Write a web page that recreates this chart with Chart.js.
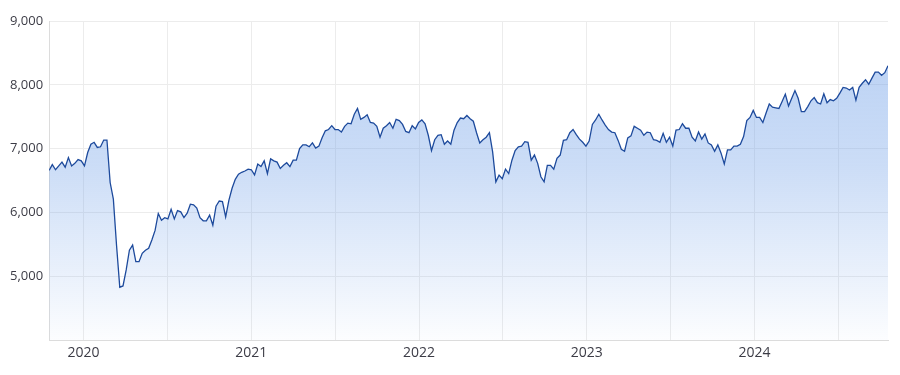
<!DOCTYPE html>
<html>
<head>
<meta charset="utf-8">
<script src="https://cdn.jsdelivr.net/npm/chart.js@4/dist/chart.umd.min.js"></script>
<style>
  html, body { margin: 0; padding: 0; background: #fff; }
  #wrap { width: 900px; height: 375px; }
</style>
</head>
<body>
<div id="wrap"><canvas id="priceChart"></canvas></div>
<script>
// weekly closes, first week ending 18 Oct 2019
const firstWeek = "2019-10-18";
const weeklyValues = [
  6660, 6750, 6670, 6730, 6790, 6710, 6860, 6730, 6770, 6830, 6810, 6730, 6940, 7070, 7100, 7020, 7030,
  7135, 7135, 6470, 6210, 5480, 4830, 4850, 5100, 5410, 5490, 5230, 5230, 5360, 5410, 5440, 5570, 5720,
  5985, 5880, 5920, 5900, 6050, 5900, 6030, 6010, 5920, 5990, 6130, 6120, 6070, 5920, 5870, 5870, 5960,
  5800, 6100, 6180, 6170, 5930, 6190, 6380, 6520, 6600, 6630, 6650, 6680, 6670, 6590, 6760, 6720, 6810, 6610,
  6840, 6810, 6790, 6690, 6740, 6780, 6720, 6820, 6820, 7000, 7060, 7060, 7030, 7090, 7010, 7040, 7170,
  7280, 7300, 7360, 7300, 7300, 7260, 7350, 7400, 7390, 7540, 7630, 7460, 7490, 7530, 7410, 7400, 7350,
  7180, 7320, 7360, 7410, 7320, 7460, 7440, 7380, 7270, 7250, 7360, 7310, 7410, 7450, 7390, 7210, 6970,
  7140, 7210, 7220, 7070, 7120, 7070, 7290, 7410, 7480, 7470, 7520, 7470, 7430, 7250, 7090, 7140,
  7180, 7250, 6950, 6480, 6585, 6530, 6680, 6610, 6820, 6970, 7030, 7040, 7110, 7100, 6820, 6900, 6770,
  6560, 6480, 6740, 6740, 6680, 6850, 6900, 7130, 7140, 7250, 7300, 7220, 7150, 7100, 7040, 7120, 7380,
  7450, 7540, 7450, 7370, 7300, 7260, 7250, 7130, 6990, 6960, 7170, 7200, 7350, 7320, 7290, 7210, 7260,
  7250, 7140, 7130, 7100, 7240, 7100, 7180, 7040, 7290, 7300, 7390, 7320, 7320, 7180, 7120, 7260, 7150, 7230,
  7090, 7060, 6960, 7060, 6930, 6760, 6980, 6980, 7040, 7040, 7070, 7190, 7440, 7490, 7600, 7490, 7490,
  7410, 7560, 7700, 7650, 7640, 7630, 7740, 7855, 7670, 7790, 7910,
  7790, 7580, 7580, 7660, 7750, 7800, 7720, 7700, 7860, 7720, 7770, 7750, 7790, 7870, 7960, 7950, 7920,
  7960, 7760, 7960, 8025, 8080, 8010, 8105, 8200, 8200, 8150, 8190, 8300
];
const yMin = 4000;
const yMax = 9000;
const yStep = 1000;

// date -> fractional year, so gridlines land on 1 Jan / 1 Jul
function toYear(d) {
  const y = d.getUTCFullYear();
  const start = Date.UTC(y, 0, 1);
  const end = Date.UTC(y + 1, 0, 1);
  return y + (d.getTime() - start) / (end - start);
}

const startMs = new Date(firstWeek + "T00:00:00Z").getTime();
const points = weeklyValues.map((v, i) => ({
  x: toYear(new Date(startMs + i * 7 * 86400000)),
  y: v
}));

const ctx = document.getElementById("priceChart").getContext("2d");

new Chart(ctx, {
  type: "line",
  data: {
    datasets: [{
      data: points,
      borderColor: "#1d4a9c",
      borderWidth: 1.3,
      pointRadius: 0,
      tension: 0,
      fill: "start",
      backgroundColor: (c) => {
        const area = c.chart.chartArea;
        if (!area) return "rgba(120,165,235,0.4)";
        const g = c.chart.ctx.createLinearGradient(0, area.top, 0, area.bottom);
        g.addColorStop(0, "rgba(112,160,232,0.5)");
        g.addColorStop(0.45, "rgba(112,160,232,0.36)");
        g.addColorStop(1, "rgba(112,160,232,0.02)");
        return g;
      }
    }]
  },
  options: {
    responsive: true,
    maintainAspectRatio: false,
    animation: false,
    layout: { padding: { top: 21, right: 12, left: 4, bottom: 10 } },
    plugins: {
      legend: { display: false },
      tooltip: { enabled: false }
    },
    scales: {
      x: {
        type: "linear",
        min: points[0].x,
        max: points[points.length - 1].x,
        grid: { color: "#ececec", drawTicks: false },
        border: { color: "#dcdcdc" },
        ticks: {
          stepSize: 0.5,
          includeBounds: false,
          autoSkip: false,
          maxRotation: 0,
          padding: 4,
          color: "#3c3c46",
          font: { family: "'Open Sans'", size: 14 },
          callback: value => Math.abs(value - Math.round(value)) < 1e-6 ? String(Math.round(value)) : ""
        }
      },
      y: {
        min: yMin,
        max: yMax,
        grid: { color: "#ececec", drawTicks: false },
        border: { color: "#dcdcdc" },
        ticks: {
          stepSize: yStep,
          padding: 6,
          color: "#3c3c46",
          font: { family: "'Open Sans'", size: 13 },
          callback: value => value === yMin ? "" : value.toLocaleString("en-US")
        }
      }
    }
  }
});
</script>
</body>
</html>
